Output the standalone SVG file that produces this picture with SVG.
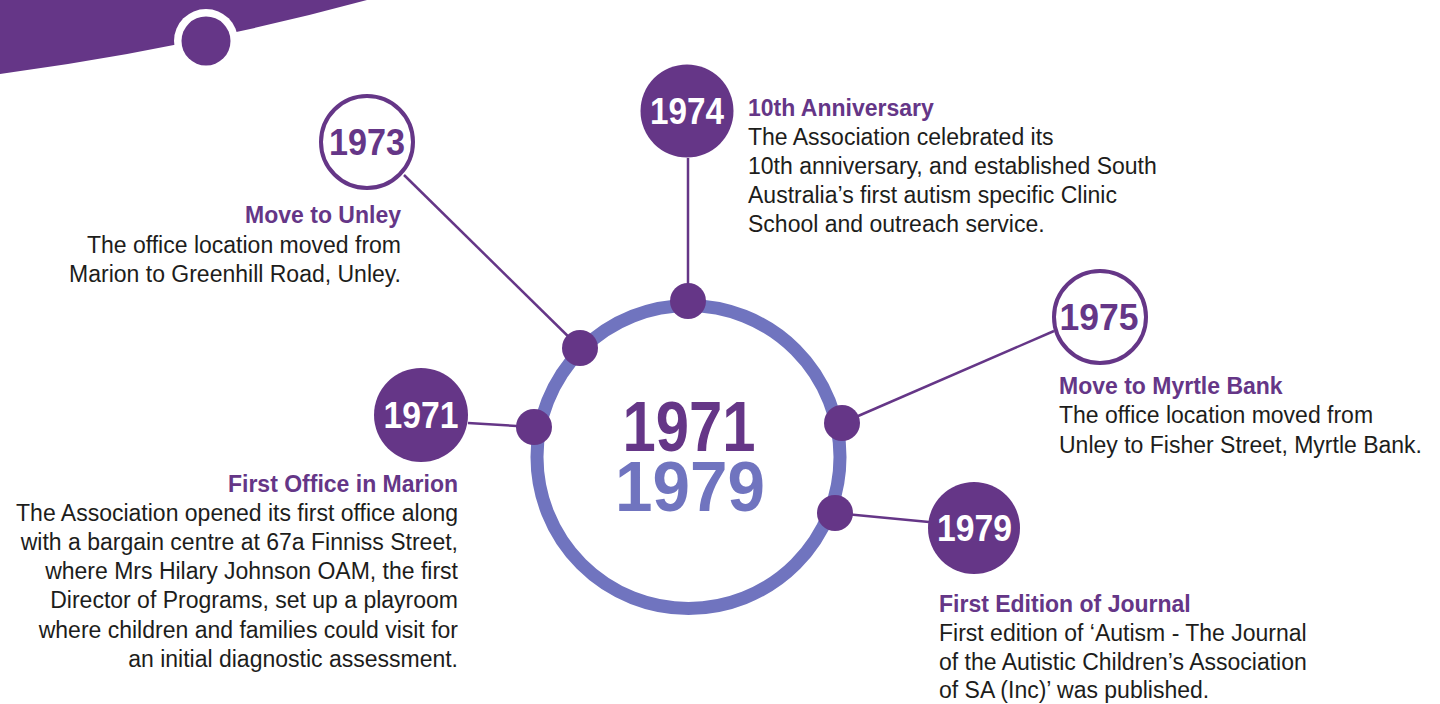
<svg xmlns="http://www.w3.org/2000/svg" width="1440" height="704" viewBox="0 0 1440 704">
<style>
.bg{fill:#ffffff}
.purple{fill:#653687}
.line{stroke:#653687;stroke-width:2.5;fill:none}
.ring{stroke:#7074bf;stroke-width:13;fill:none}
.dot{fill:#653687}
.yo{fill:#ffffff;stroke:#653687;stroke-width:4}
.yf{fill:#653687}
.yt{font-family:"Liberation Sans",Arial,sans-serif;font-weight:bold;font-size:36px;text-anchor:middle}
.yt-o{fill:#653687}
.yt-f{fill:#ffffff}
.h{font-family:"Liberation Sans",Arial,sans-serif;font-weight:bold;font-size:23px;fill:#653687}
.b{font-family:"Liberation Sans",Arial,sans-serif;font-size:23px;fill:#1d1d1b}
.end{text-anchor:end}
.big{font-family:"Liberation Sans",Arial,sans-serif;font-weight:bold;font-size:70px;text-anchor:middle}
</style>
<rect class="bg" x="0" y="0" width="1440" height="704"/>
<g id="corner">
<path class="purple" d="M0,0 L367,0 Q190,48 0,74 Z"/>
<circle cx="206" cy="41" r="32" fill="#ffffff"/>
<circle class="purple" cx="206" cy="41" r="24.5"/>
</g>
<g id="connectors">
<line class="line" x1="404" y1="175" x2="580" y2="348"/>
<line class="line" x1="688" y1="158" x2="688" y2="301"/>
<line class="line" x1="468" y1="423" x2="534" y2="427"/>
<line class="line" x1="842" y1="423" x2="1054" y2="331"/>
<line class="line" x1="835" y1="513" x2="929" y2="522"/>
</g>
<g id="hub">
<circle class="ring" cx="688.5" cy="457" r="151.5"/>
<text class="big"><tspan x="689" y="451" fill="#653687" textLength="133" lengthAdjust="spacingAndGlyphs">1971</tspan><tspan x="690" y="511" fill="#7074bf" textLength="150" lengthAdjust="spacingAndGlyphs">1979</tspan></text>
<circle class="dot" cx="688" cy="301" r="18"/>
<circle class="dot" cx="580" cy="348" r="18"/>
<circle class="dot" cx="534" cy="427" r="18"/>
<circle class="dot" cx="842" cy="423" r="18"/>
<circle class="dot" cx="835" cy="513" r="18"/>
</g>
<g id="node-1973">
<circle class="yo" cx="367" cy="142" r="46"/>
<text class="yt yt-o" x="367" y="155" textLength="76" lengthAdjust="spacingAndGlyphs">1973</text>
<text class="h end" x="401" y="223">Move to Unley</text>
<text class="b end" x="401" y="253">The office location moved from</text>
<text class="b end" x="401" y="282">Marion to Greenhill Road, Unley.</text>
</g>
<g id="node-1974">
<circle class="yf" cx="687" cy="111" r="46.5"/>
<text class="yt yt-f" x="687" y="124" textLength="74" lengthAdjust="spacingAndGlyphs">1974</text>
<text class="h" x="748" y="116">10th Anniversary</text>
<text class="b" x="748" y="145">The Association celebrated its</text>
<text class="b" x="748" y="174">10th anniversary, and established South</text>
<text class="b" x="748" y="203">Australia’s first autism specific Clinic</text>
<text class="b" x="748" y="232">School and outreach service.</text>
</g>
<g id="node-1971">
<circle class="yf" cx="421" cy="415" r="47"/>
<text class="yt yt-f" x="421" y="428" textLength="75" lengthAdjust="spacingAndGlyphs">1971</text>
<text class="h end" x="458" y="492">First Office in Marion</text>
<text class="b end" x="458" y="521">The Association opened its first office along</text>
<text class="b end" x="458" y="550">with a bargain centre at 67a Finniss Street,</text>
<text class="b end" x="458" y="579">where Mrs Hilary Johnson OAM, the first</text>
<text class="b end" x="458" y="608">Director of Programs, set up a playroom</text>
<text class="b end" x="458" y="638">where children and families could visit for</text>
<text class="b end" x="458" y="667">an initial diagnostic assessment.</text>
</g>
<g id="node-1975">
<circle class="yo" cx="1100" cy="317" r="46"/>
<text class="yt yt-o" x="1099" y="330" textLength="79" lengthAdjust="spacingAndGlyphs">1975</text>
<text class="h" x="1059" y="394">Move to Myrtle Bank</text>
<text class="b" x="1059" y="423">The office location moved from</text>
<text class="b" x="1059" y="453">Unley to Fisher Street, Myrtle Bank.</text>
</g>
<g id="node-1979">
<circle class="yf" cx="974" cy="528" r="46"/>
<text class="yt yt-f" x="974.5" y="541" textLength="75" lengthAdjust="spacingAndGlyphs">1979</text>
<text class="h" x="939" y="612">First Edition of Journal</text>
<text class="b" x="939" y="641">First edition of ‘Autism - The Journal</text>
<text class="b" x="939" y="670">of the Autistic Children’s Association</text>
<text class="b" x="939" y="698">of SA (Inc)’ was published.</text>
</g>
</svg>
